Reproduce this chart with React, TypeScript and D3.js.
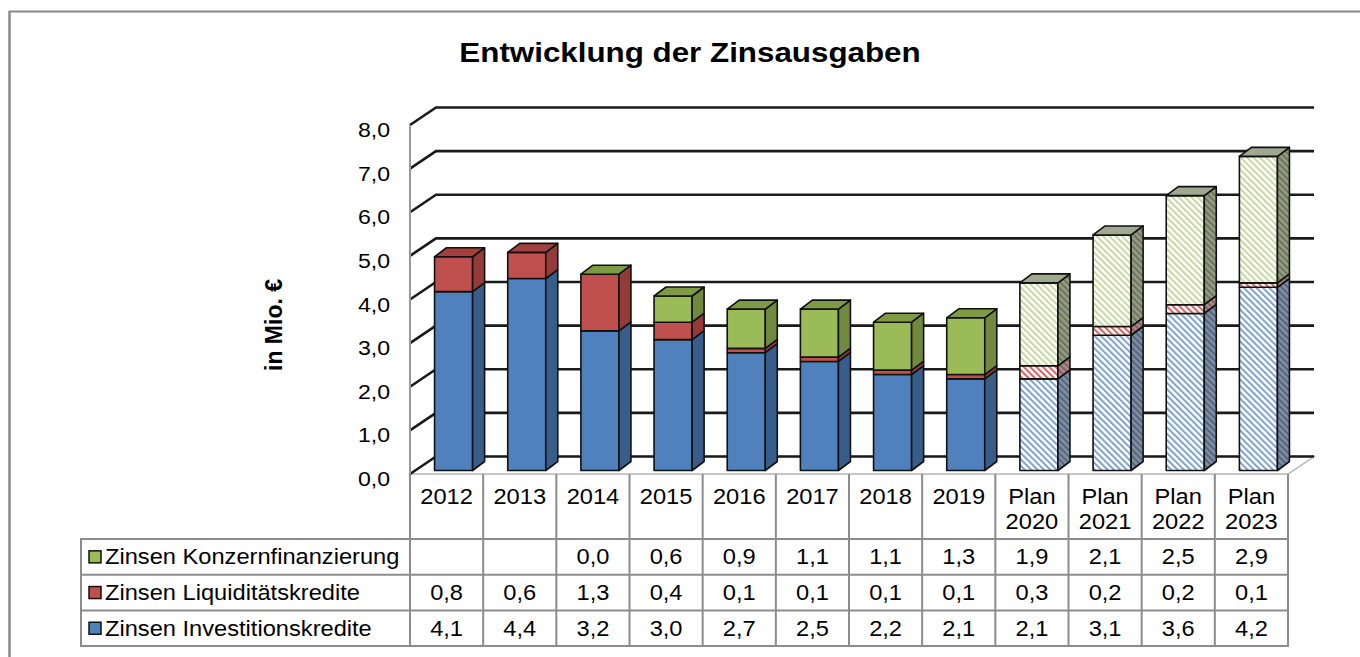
import React from "react";
import * as d3 from "d3";

const categories = ["2012", "2013", "2014", "2015", "2016", "2017", "2018", "2019", "Plan 2020", "Plan 2021", "Plan 2022", "Plan 2023"];
const isPlan = [false, false, false, false, false, false, false, false, true, true, true, true];
const investValues = [4.1, 4.4, 3.2, 3.0, 2.7, 2.5, 2.2, 2.1, 2.1, 3.1, 3.6, 4.2];
const liquidValues = [0.8, 0.6, 1.3, 0.4, 0.1, 0.1, 0.1, 0.1, 0.3, 0.2, 0.2, 0.1];
const konzernValues: (number | null)[] = [null, null, 0.0, 0.6, 0.9, 1.1, 1.1, 1.3, 1.9, 2.1, 2.5, 2.9];
const seriesNames = ["Zinsen Investitionskredite", "Zinsen Liquiditätskredite", "Zinsen Konzernfinanzierung"];
const yTicks = [0, 1, 2, 3, 4, 5, 6, 7, 8];
const title = "Entwicklung der Zinsausgaben";
const yTitle = "in Mio. €";

const W = 1360, H = 657;
const FONT = "'Liberation Sans', Arial, sans-serif";
const SX = 1.1;

const colors = [
  { front: "#4F81BD", side: "#385D8A", top: "#3E6797", hatch: "#7FA2CC", pside: "#7F8FA5", pstripe: "#55657D", ptop: "#8C98A8" },
  { front: "#C0504D", side: "#943B39", top: "#A2403D", hatch: "#D9605D", pside: "#A88A8A", pstripe: "#85605F", ptop: "#B09A9A" },
  { front: "#9BBB59", side: "#71893F", top: "#7E9A45", hatch: "#C5D89F", pside: "#959D85", pstripe: "#6C755C", ptop: "#A0A890" },
];

function T({ x, y, size, bold, anchor, children, rotate }: any) {
  const tr = rotate ? `translate(${x},${y}) rotate(${rotate})` : `translate(${x},${y}) scale(${SX},1)`;
  return (
    <text transform={tr} fontFamily={FONT} fontSize={size} fontWeight={bold ? "bold" : "normal"} textAnchor={anchor || "middle"} fill="#000">
      {children}
    </text>
  );
}

const fmt = (v: number) => v.toFixed(1).replace(".", ",");

export default function App() {
  const x0 = 410, x1 = 1288;
  const DX = 26, DY = -17.5; // wall depth
  const bx = d3.scaleBand<string>().domain(categories).range([x0, x1]).paddingInner(0).paddingOuter(0);
  const y = d3.scaleLinear().domain([0, 8]).range([474, 125]);
  const bw = bx.bandwidth() * 0.52;
  const bdx = 12, bdy = -9; // bar depth
  const ox = 7, oy = -3.5; // bar offset into depth

  const rowTop = 539, rowH = 35.7;
  const tableRows = [
    { name: seriesNames[2], vals: konzernValues, c: colors[2] },
    { name: seriesNames[1], vals: liquidValues, c: colors[1] },
    { name: seriesNames[0], vals: investValues, c: colors[0] },
  ];

  const bars: React.ReactNode[] = [];
  categories.forEach((cat, i) => {
    const segs = [investValues[i], liquidValues[i], konzernValues[i]];
    const xl = (bx(cat) as number) + (bx.bandwidth() - bw) / 2 + ox;
    const xr = xl + bw;
    let acc = 0;
    let topIdx = 0;
    segs.forEach((v, s) => { if (v !== null) topIdx = s; });
    const plan = isPlan[i];
    segs.forEach((v, s) => {
      if (v === null) return;
      const yb = y(acc) + oy;
      const yt = y(acc + v) + oy;
      acc += v;
      const c = colors[s];
      const frontFill = plan ? `url(#pf${s})` : c.front;
      const sideFill = plan ? `url(#ps${s})` : c.side;
      bars.push(
        <g key={`${i}-${s}`} stroke="#111" strokeWidth={1.6} strokeLinejoin="round">
          {v > 0 && <rect x={xl} y={yt} width={bw} height={yb - yt} fill={frontFill} />}
          {v > 0 && (
            <polygon points={`${xr},${yt} ${xr + bdx},${yt + bdy} ${xr + bdx},${yb + bdy} ${xr},${yb}`} fill={sideFill} />
          )}
          {s === topIdx && (
            <polygon points={`${xl},${yt} ${xl + bdx},${yt + bdy} ${xr + bdx},${yt + bdy} ${xr},${yt}`} fill={plan ? c.ptop : c.top} />
          )}
        </g>
      );
    });
  });

  return (
    <svg width={W} height={H} style={{ position: "absolute", left: 0, top: 0, background: "#fff" }}>
      <defs>
        {colors.map((c, s) => (
          <React.Fragment key={s}>
            <pattern id={`pf${s}`} patternUnits="userSpaceOnUse" width={4.5} height={4.5} patternTransform="rotate(-45)">
              <rect width={4.5} height={4.5} fill="#fff" />
              <rect width={2} height={4.5} fill={c.hatch} />
            </pattern>
            <pattern id={`ps${s}`} patternUnits="userSpaceOnUse" width={4.5} height={4.5} patternTransform="rotate(-45)">
              <rect width={4.5} height={4.5} fill={c.pside} />
              <rect width={2} height={4.5} fill={c.pstripe} />
            </pattern>
          </React.Fragment>
        ))}
      </defs>

      {/* outer frame */}
      <line x1={9} y1={11.5} x2={W} y2={11.5} stroke="#8a8a8a" strokeWidth={2} />
      <line x1={9.5} y1={11} x2={9.5} y2={H} stroke="#8a8a8a" strokeWidth={2.5} />

      <T x={690} y={62} size={28.5} bold>{title}</T>
      <T x={282} y={325} size={23} bold rotate={-90}>{yTitle}</T>

      {/* floor */}
      <polygon points={`${x0},${y(0)} ${x1},${y(0)} ${x1 + DX},${y(0) + DY} ${x0 + DX},${y(0) + DY}`} fill="#fff" stroke="#b5b5b5" strokeWidth={1.5} />

      {/* gridlines: left wall diagonal + back wall */}
      {yTicks.map((t) => (
        <path key={t} d={`M${x0},${y(t)} L${x0 + DX},${y(t) + DY} L${x1 + DX},${y(t) + DY}`} fill="none" stroke="#1a1a1a" strokeWidth={2.6} />
      ))}
      <line x1={x0} y1={y(8)} x2={x0} y2={y(0)} stroke="#999" strokeWidth={2} />

      {yTicks.map((t) => (
        <T key={t} x={374} y={y(t) + 12} size={21}>{fmt(t)}</T>
      ))}

      {bars}

      {/* table */}
      <g stroke="#8c8c8c" strokeWidth={2} fill="none">
        {d3.range(categories.length + 1).map((k) => {
          const xx = k < categories.length ? (bx(categories[k]) as number) : x1;
          return <line key={k} x1={xx} y1={474} x2={xx} y2={rowTop + 3 * rowH} />;
        })}
        <line x1={81} y1={rowTop} x2={81} y2={rowTop + 3 * rowH} />
        {d3.range(4).map((r) => (
          <line key={r} x1={80} y1={rowTop + r * rowH} x2={x1 + 1} y2={rowTop + r * rowH} />
        ))}
      </g>

      {categories.map((cat, i) => {
        const cx = (bx(cat) as number) + bx.bandwidth() / 2;
        const parts = cat.split(" ");
        return parts.length === 1 ? (
          <T key={cat} x={cx} y={504} size={21.5}>{cat}</T>
        ) : (
          <g key={cat}>
            <T x={cx} y={504} size={21.5}>{parts[0]}</T>
            <T x={cx} y={529} size={21.5}>{parts[1]}</T>
          </g>
        );
      })}

      {tableRows.map((row, r) => {
        const cy = rowTop + r * rowH + rowH / 2;
        return (
          <g key={r}>
            <rect x={89} y={cy - 6} width={12} height={12} fill={row.c.front} stroke="#111" strokeWidth={1.5} />
            <T x={105} y={cy + 7.5} size={21.5} anchor="start">{row.name}</T>
            {row.vals.map((v, i) =>
              v === null ? null : (
                <T key={i} x={(bx(categories[i]) as number) + bx.bandwidth() / 2} y={cy + 7.5} size={21.5}>{fmt(v)}</T>
              )
            )}
          </g>
        );
      })}
    </svg>
  );
}
